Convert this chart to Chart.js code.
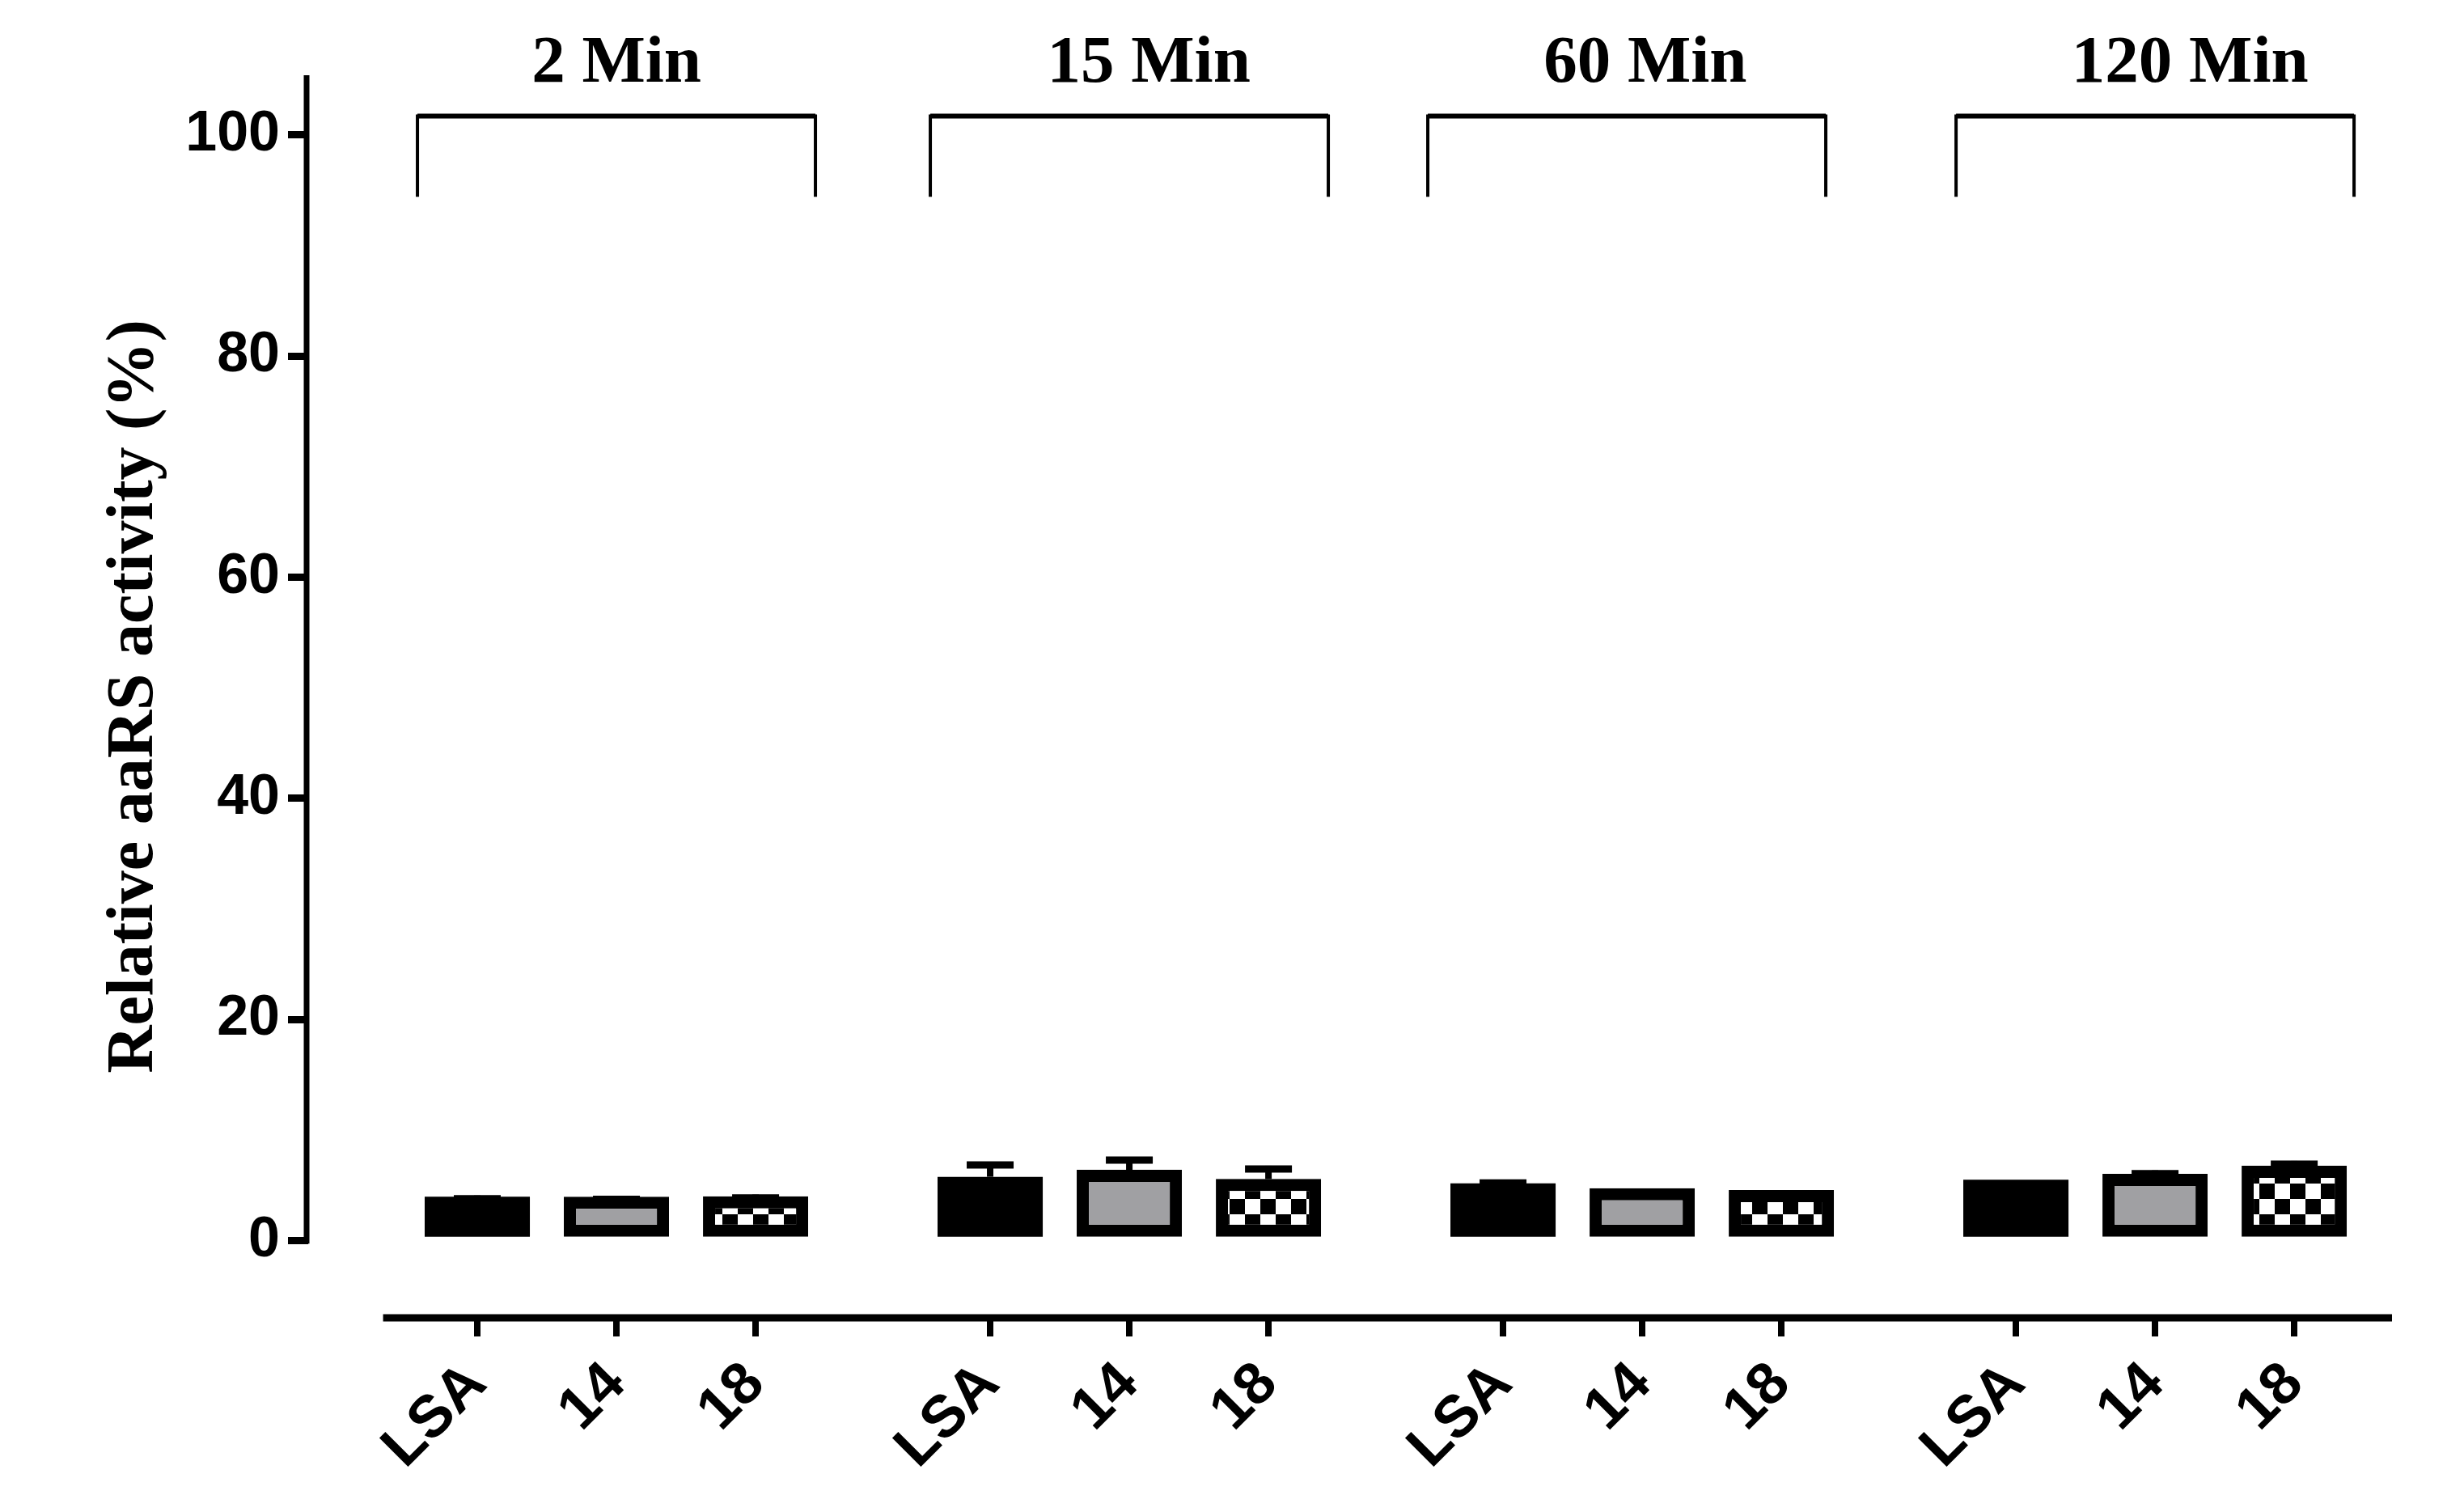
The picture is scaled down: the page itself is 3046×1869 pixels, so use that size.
<!DOCTYPE html>
<html>
<head>
<meta charset="utf-8">
<script src="https://cdn.jsdelivr.net/npm/chart.js@4.4.1/dist/chart.umd.min.js"></script>
<style>
    html, body { margin: 0; padding: 0; background: #fff; }
    canvas { display: block; }
</style>
</head>
<body>
<canvas id="activityChart" width="3046" height="1869"></canvas>
<script>
const groupLabels = ["2 Min", "15 Min", "60 Min", "120 Min"];
const compoundLabels = ["LSA", "14", "18"];
const yTickValues = [0, 20, 40, 60, 80, 100];

// relative aaRS activity (%) per time point
const lsaActivity = [3.95, 5.76, 5.17, 5.49];
const c14Activity = [3.95, 6.39, 4.73, 6.03];
const c18Activity = [4.00, 5.56, 4.56, 6.76];

// upper error bars (SEM)
const lsaSem = [0.12, 1.36, 0.32, 0];
const c14Sem = [0.07, 1.17, 0, 0.31];
const c18Sem = [0.15, 1.20, 0, 0.44];

const CAT_PCT = 0.814;
const X_MIN = -0.601;
const X_MAX = 3.462;
// small hand offsets (x units) so titles/brackets sit like the original
const titleNudge = [0, 0.038, 0.006, 0.068];
const bracketNudge = [0, 0, -0.03, 0];
const sansBold = '"Liberation Sans", Arial, sans-serif';
const serifBold = '"Liberation Serif", "Times New Roman", serif';

function checkerPattern(cell) {
    const c = document.createElement("canvas");
    c.width = cell * 2;
    c.height = cell * 2;
    const g = c.getContext("2d");
    g.fillStyle = "#fff";
    g.fillRect(0, 0, c.width, c.height);
    g.fillStyle = "#000";
    g.fillRect(0, 0, cell, cell);
    g.fillRect(cell, cell, cell, cell);
    return g.createPattern(c, "repeat");
}

function toPoints(values) {
    return values.map((v, i) => ({ x: i, y: v }));
}

// axis lines, error bars, brackets and time point titles
const graphpadBits = {
    id: "graphpadBits",
    afterDatasetsDraw(chart) {
        const ctx = chart.ctx;
        const y = chart.scales.y;
        ctx.save();
        ctx.strokeStyle = "#000";
        chart.data.datasets.forEach((ds, i) => {
            const meta = chart.getDatasetMeta(i);
            meta.data.forEach((bar, j) => {
                const sem = ds.sem[j];
                if (!sem) return;
                const top = y.getPixelForValue(ds.data[j].y + sem);
                ctx.lineWidth = 8;
                ctx.beginPath();
                ctx.moveTo(bar.x, bar.y);
                ctx.lineTo(bar.x, top);
                ctx.stroke();
                ctx.lineWidth = 9;
                ctx.beginPath();
                ctx.moveTo(bar.x - 29, top + 4);
                ctx.lineTo(bar.x + 29, top + 4);
                ctx.stroke();
            });
        });
        ctx.restore();
    },
    afterDraw(chart) {
        const ctx = chart.ctx;
        const area = chart.chartArea;
        const x = chart.scales.x;
        const y = chart.scales.y;
        ctx.save();
        ctx.strokeStyle = "#000";
        ctx.fillStyle = "#000";

        // y axis line, stops at zero
        ctx.lineWidth = 7;
        ctx.beginPath();
        ctx.moveTo(area.left - 2, y.getPixelForValue(0) + 4);
        ctx.lineTo(area.left - 2, area.top);
        ctx.stroke();

        // detached x axis line
        ctx.lineWidth = 9;
        ctx.beginPath();
        ctx.moveTo(x.getPixelForValue(-0.455), area.bottom);
        ctx.lineTo(area.right, area.bottom);
        ctx.stroke();

        // brackets + titles
        const bTop = y.getPixelForValue(101.7);
        const bBottom = y.getPixelForValue(94.4);
        const baseline = y.getPixelForValue(104.8);
        ctx.font = "bold 83px " + serifBold;
        ctx.textAlign = "center";
        ctx.textBaseline = "alphabetic";
        groupLabels.forEach((label, k) => {
            const mid = k + bracketNudge[k];
            const l = x.getPixelForValue(mid - 0.388);
            const r = x.getPixelForValue(mid + 0.388);
            ctx.lineWidth = 4;
            ctx.beginPath();
            ctx.moveTo(l, bBottom);
            ctx.lineTo(l, bTop);
            ctx.lineTo(r, bTop);
            ctx.lineTo(r, bBottom);
            ctx.stroke();
            ctx.lineWidth = 6;
            ctx.beginPath();
            ctx.moveTo(l, bTop);
            ctx.lineTo(r, bTop);
            ctx.stroke();
            ctx.fillText(label, x.getPixelForValue(k + titleNudge[k]), baseline);
        });
        ctx.restore();
    }
};

const ctx = document.getElementById("activityChart").getContext("2d");

new Chart(ctx, {
    type: "bar",
    data: {
        datasets: [{
            label: "LSA",
            data: toPoints(lsaActivity),
            sem: lsaSem,
            backgroundColor: "#000",
            borderWidth: 0
        }, {
            label: "14",
            data: toPoints(c14Activity),
            sem: c14Sem,
            backgroundColor: "#a0a0a3"
        }, {
            label: "18",
            data: toPoints(c18Activity),
            sem: c18Sem,
            backgroundColor: checkerPattern(19)
        }]
    },
    options: {
        responsive: false,
        animation: false,
        devicePixelRatio: 1,
        layout: {
            padding: { left: 0, top: 93, right: 89, bottom: 0 }
        },
        datasets: {
            bar: {
                categoryPercentage: CAT_PCT,
                barPercentage: 0.756,
                borderColor: "#000",
                borderWidth: 15,
                borderSkipped: false
            }
        },
        plugins: {
            legend: { display: false },
            tooltip: { enabled: false }
        },
        scales: {
            x: {
                type: "linear",
                display: false,
                offset: false,
                grid: { offset: false },
                min: X_MIN,
                max: X_MAX,
                afterBuildTicks(scale) {
                    scale.ticks = groupLabels.map((g, i) => ({ value: i }));
                }
            },
            x2: {
                type: "linear",
                position: "bottom",
                offset: false,
                min: X_MIN,
                max: X_MAX,
                afterBuildTicks(scale) {
                    const ticks = [];
                    groupLabels.forEach((g, k) => {
                        compoundLabels.forEach((c, j) => {
                            ticks.push({ value: k + (j - 1) * CAT_PCT / 3 });
                        });
                    });
                    scale.ticks = ticks;
                },
                afterFit(scale) {
                    scale.height = 240;
                },
                border: { display: false },
                grid: {
                    offset: false,
                    drawOnChartArea: false,
                    tickLength: 23,
                    lineWidth: 8,
                    color: "#000"
                },
                ticks: {
                    autoSkip: false,
                    minRotation: 45,
                    maxRotation: 45,
                    padding: 16,
                    color: "#000",
                    font: { family: sansBold, weight: "bold", size: 73 },
                    callback(value, index) {
                        return compoundLabels[index % compoundLabels.length];
                    }
                }
            },
            y: {
                min: -7,
                max: 105.4,
                afterBuildTicks(scale) {
                    scale.ticks = yTickValues.map(v => ({ value: v }));
                },
                afterFit(scale) {
                    scale.width = 381;
                },
                border: { display: false },
                grid: {
                    drawOnChartArea: false,
                    tickLength: 25,
                    lineWidth: 9,
                    color: "#000"
                },
                ticks: {
                    padding: 10,
                    color: "#000",
                    font: { family: sansBold, weight: "bold", size: 70 }
                },
                title: {
                    display: true,
                    text: "Relative aaRS activity (%)",
                    color: "#000",
                    padding: { top: 118, bottom: 0 },
                    font: { family: serifBold, weight: "bold", size: 82 }
                }
            }
        }
    },
    plugins: [graphpadBits]
});
</script>
</body>
</html>
